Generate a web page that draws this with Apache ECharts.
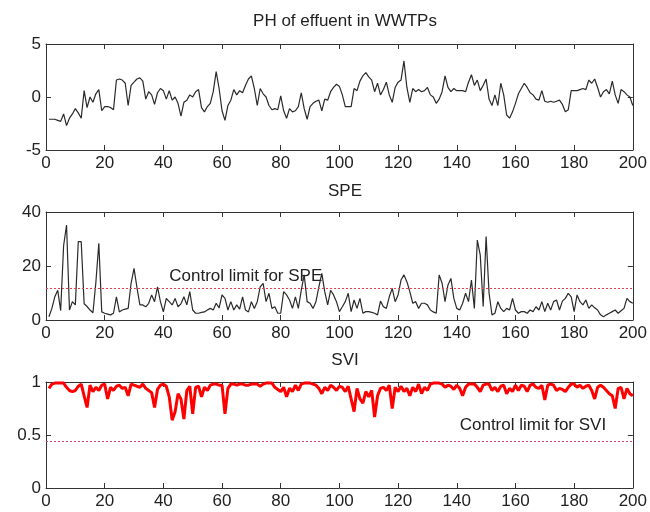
<!DOCTYPE html>
<html><head><meta charset="utf-8">
<script src="https://cdn.jsdelivr.net/npm/echarts@6/dist/echarts.min.js"></script>
<style>html,body{margin:0;padding:0;background:#fff}#c{width:650px;height:512px}</style>
</head><body><div id="c"></div>
<script>
// Samples 1..200
const phValues = [
-2.1,-2.1,-2.1,-2.2,-2.3,-1.6,-2.7,-2.0,-1.6,-1.1,
-1.5,-2.0,0.6,-1.0,0.0,-0.5,0.3,0.7,-1.3,-0.9,
-0.9,-1.0,-1.2,1.6,1.7,1.6,1.3,-0.8,1.1,1.4,
1.7,1.8,1.5,-0.2,0.5,0.2,-0.7,0.4,0.8,0.6,
-0.2,0.6,-0.3,0.0,-0.6,-1.8,-0.5,-0.3,0.2,0.0,
0.5,0.7,-1.0,-1.4,-0.9,-0.6,0.5,2.4,0.8,-1.3,
-2.2,-0.8,-0.3,0.7,0.2,0.6,0.4,1.1,1.7,2.0,
0.8,-0.8,0.8,0.3,0.0,-0.8,-1.2,-1.1,-1.2,0.1,
-1.3,-2.0,-1.1,-1.4,-1.3,-0.9,0.4,-1.1,-2.1,-0.9,
-0.6,-0.4,-0.3,-1.3,-0.2,-0.3,0.5,0.9,1.2,1.0,
0.2,-0.9,-0.9,-0.9,0.8,0.6,1.5,2.0,2.3,1.9,
1.6,0.5,1.3,0.2,0.7,1.4,0.2,-0.5,0.9,1.4,
1.6,3.4,0.9,-0.5,0.8,0.5,0.7,0.5,0.6,0.9,
0.2,0.0,-0.6,-0.2,0.5,2.0,0.9,0.5,0.8,0.6,
0.6,0.6,0.5,1.4,2.1,1.1,1.6,0.6,1.1,1.7,
-0.2,-0.8,0.2,-0.8,1.3,0.2,-1.7,-2.0,-1.4,-0.6,
0.3,0.8,1.3,0.9,0.4,0.2,-0.2,-0.3,0.6,-0.4,
-0.5,-0.4,-0.5,-0.4,-0.3,-0.7,-1.4,-1.2,0.6,0.6,
0.6,0.7,0.8,0.7,1.6,1.3,1.7,0.9,0.0,0.5,
0.7,0.3,1.5,0.2,-0.6,0.7,0.5,0.2,0.0,-0.8
];
const speValues = [
1.2,4.3,8.6,11.0,3.5,27.5,35.2,3.7,6.8,5.6,
29.0,29.0,6.0,5.0,3.7,2.7,14.0,28.4,3.0,2.5,
2.2,1.9,2.5,8.6,3.0,3.7,4.0,4.3,13.6,19.1,
12.0,5.6,5.6,4.9,6.2,9.3,6.8,12.3,6.8,3.0,
8.0,6.8,5.6,8.0,4.9,6.0,8.6,5.6,10.5,3.7,
2.5,2.5,2.8,3.0,3.7,4.3,3.7,6.2,4.5,9.3,
8.0,3.7,6.8,3.7,5.6,4.0,8.6,3.7,3.0,6.8,
4.3,6.8,12.3,13.6,6.8,9.9,4.3,4.9,2.5,2.5,
10.5,9.3,7.4,4.3,8.6,4.3,11.0,16.7,6.8,6.2,
4.3,6.8,12.3,17.3,10.5,5.6,11.0,9.3,6.8,3.1,
4.9,6.8,9.9,3.1,7.4,4.3,8.0,2.5,3.1,3.1,
2.8,2.5,1.9,7.0,4.9,4.3,8.6,11.7,6.8,9.3,
14.8,16.7,14.2,10.5,6.2,6.8,4.3,6.2,6.2,5.6,
3.7,3.0,2.5,16.7,13.6,6.8,13.0,15.4,8.0,4.3,
3.7,6.2,9.9,6.8,14.8,4.3,29.6,24.0,5.0,30.9,
10.0,1.9,2.5,6.8,4.3,3.1,4.3,3.7,8.0,3.7,
2.5,3.1,3.1,2.5,3.7,3.1,4.9,3.7,6.8,3.1,
6.2,3.7,6.8,7.4,3.7,7.0,8.0,9.9,8.6,3.1,
9.3,6.8,5.6,7.4,4.3,5.6,4.5,3.7,1.9,1.2,
1.9,2.5,3.1,3.7,2.5,3.4,4.3,8.0,6.8,6.2
];
const sviValues = [
0.94,0.98,0.99,0.99,0.99,0.99,0.95,0.92,0.91,0.92,
0.96,0.98,0.87,0.76,0.97,0.91,0.95,0.92,0.97,0.98,
0.84,0.95,0.92,0.96,0.97,0.94,0.95,0.87,0.98,0.97,
0.96,0.95,0.98,0.94,0.92,0.90,0.76,0.93,0.97,0.98,
0.96,0.86,0.64,0.72,0.89,0.84,0.65,0.92,0.96,0.70,
0.95,0.96,0.86,0.95,0.92,0.97,0.98,0.98,0.97,0.97,
0.70,0.94,0.98,0.98,0.97,0.98,0.98,0.97,0.97,0.98,
0.98,0.98,0.96,0.98,0.99,0.99,0.99,0.95,0.93,0.91,
0.95,0.86,0.94,0.91,0.97,0.92,0.98,0.99,0.99,0.99,
0.98,0.97,0.94,0.89,0.95,0.92,0.97,0.95,0.92,0.96,
0.95,0.91,0.96,0.84,0.72,0.94,0.84,0.80,0.91,0.86,
0.92,0.67,0.87,0.94,0.95,0.92,0.97,0.75,0.95,0.91,
0.96,0.91,0.94,0.87,0.95,0.91,0.98,0.89,0.95,0.92,
0.98,0.99,0.99,0.99,0.98,0.95,0.97,0.96,0.93,0.97,
0.94,0.87,0.95,0.98,0.98,0.98,0.95,0.91,0.97,0.98,
0.98,0.92,0.95,0.91,0.96,0.97,0.89,0.94,0.91,0.97,
0.92,0.97,0.96,0.91,0.97,0.98,0.95,0.94,0.97,0.83,
0.97,0.98,0.97,0.92,0.94,0.93,0.91,0.95,0.98,0.98,
0.95,0.97,0.94,0.96,0.97,0.92,0.84,0.95,0.97,0.95,
0.92,0.89,0.87,0.75,0.94,0.95,0.84,0.94,0.89,0.87
];
const speLimit = 11.7;
const sviLimit = 0.44;
const titles = ['PH of effuent in WWTPs', 'SPE', 'SVI'];
const limitTexts = ['Control limit for SPE', 'Control limit for SVI'];

const toPairs = arr => arr.map((v, i) => [i + 1, v]);
const FONT = "'Liberation Sans', Arial, sans-serif";
const TXT = '#222';
const FS = 17;

const grids = [
  {left: 46, top: 44, width: 588, height: 106},
  {left: 46, top: 212, width: 588, height: 108},
  {left: 46, top: 382, width: 588, height: 106}
];
const yRanges = [[-5, 5, 5], [0, 40, 20], [0, 1, 0.5]];

const xAxes = [], yAxes = [];
grids.forEach((g, k) => {
  ['bottom', 'top'].forEach(pos => {
    xAxes.push({
      type: 'value', gridIndex: k, position: pos, min: 0, max: 200, interval: 20,
      axisLine: {show: true, onZero: false, lineStyle: {color: '#333', width: 1}},
      axisTick: {show: true, inside: true, length: 5, lineStyle: {color: '#333'}},
      axisLabel: {show: pos === 'bottom', color: TXT, fontSize: FS, fontFamily: FONT, margin: 5},
      splitLine: {show: false}
    });
  });
  ['left', 'right'].forEach(pos => {
    yAxes.push({
      type: 'value', gridIndex: k, position: pos,
      min: yRanges[k][0], max: yRanges[k][1], interval: yRanges[k][2],
      axisLine: {show: true, onZero: false, lineStyle: {color: '#333', width: 1}},
      axisTick: {show: true, inside: true, length: 5, lineStyle: {color: '#333'}},
      axisLabel: {show: pos === 'left', color: TXT, fontSize: FS, fontFamily: FONT, margin: 5},
      splitLine: {show: false}
    });
  });
});

const titleTops = [8, 178, 347];
const option = {
  backgroundColor: '#fff',
  animation: false,
  title: titles.map((t, k) => ({
    text: t, left: 340, top: titleTops[k], textAlign: 'center',
    textStyle: {color: TXT, fontSize: FS, fontWeight: 'normal', fontFamily: FONT}
  })),
  grid: grids,
  xAxis: xAxes,
  yAxis: yAxes,
  series: [
    {
      type: 'line', xAxisIndex: 0, yAxisIndex: 0, data: toPairs(phValues),
      showSymbol: false, lineStyle: {color: '#2a2a2a', width: 1.2}
    },
    {
      type: 'line', xAxisIndex: 2, yAxisIndex: 2, data: toPairs(speValues),
      showSymbol: false, lineStyle: {color: '#2a2a2a', width: 1.2}, z: 3,
      markLine: {
        silent: true, symbol: ['none', 'none'],
        label: {show: false},
        lineStyle: {color: '#e0404f', type: [2, 2], width: 1},
        data: [{yAxis: speLimit}]
      },
      markPoint: {
        symbolSize: 0,
        label: {show: true, position: 'right', distance: 0, formatter: limitTexts[0],
                color: TXT, fontSize: FS, fontFamily: FONT},
        data: [{coord: [42, 16]}]
      }
    },
    {
      type: 'line', xAxisIndex: 4, yAxisIndex: 4, data: toPairs(sviValues),
      showSymbol: false, lineStyle: {color: '#ff0000', width: 3},
      markLine: {
        silent: true, symbol: ['none', 'none'],
        label: {show: false},
        lineStyle: {color: '#d0407a', type: [2, 2], width: 1},
        data: [{yAxis: sviLimit}]
      },
      markPoint: {
        symbolSize: 0,
        label: {show: true, position: 'right', distance: 0, formatter: limitTexts[1],
                color: TXT, fontSize: FS, fontFamily: FONT},
        data: [{coord: [141, 0.59]}]
      }
    }
  ]
};
echarts.init(document.getElementById('c'), null, {renderer: 'canvas'}).setOption(option);
</script>
</body></html>
